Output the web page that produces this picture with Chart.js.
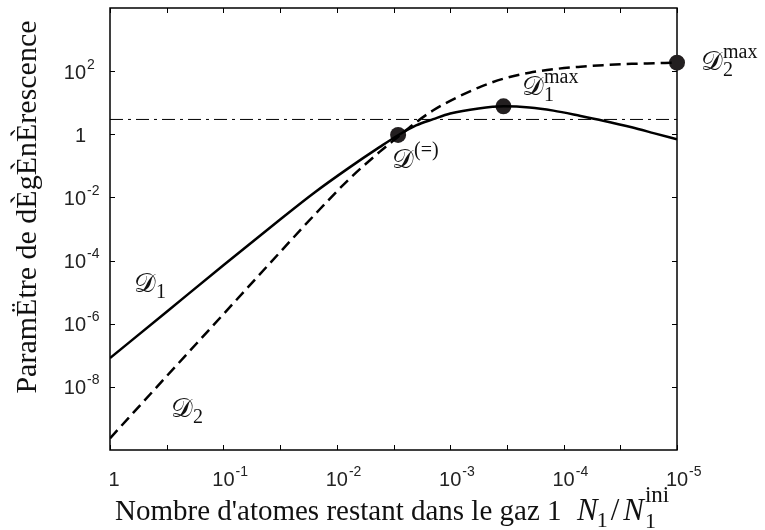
<!DOCTYPE html>
<html>
<head>
<meta charset="utf-8">
<script src="https://cdn.jsdelivr.net/npm/chart.js@4.4.0/dist/chart.umd.min.js"></script>
<style>
  html, body { margin: 0; padding: 0; background: #fff; }
  #wrap { width: 765px; height: 530px; position: relative; }
</style>
</head>
<body>
<div id="wrap"><canvas id="chart"></canvas></div>
<script>
// remaining fraction N1/N1ini (x axis, runs from 1 down to 1e-5)
const N1 = [1, 0.316, 0.1, 0.0316, 0.0158, 0.00794, 0.00417, 0.00288, 0.00200, 0.00141,
  0.001, 5.62e-4, 3.39e-4, 2.0e-4, 1.23e-4, 7.08e-5, 4.47e-5, 2.51e-5, 1.58e-5, 1e-5];
// degeneracy parameter, gas 1 (solid) and gas 2 (dashed)
const D1 = [8.13e-8, 2.40e-6, 7.08e-5, 2.0e-3, 0.0141, 0.0832, 0.398, 0.933, 1.91, 3.02,
  4.57, 6.61, 7.67, 7.08, 5.62, 3.80, 2.69, 1.66, 1.07, 0.692];
const D2 = [2.34e-10, 2.19e-8, 2.0e-6, 1.86e-4, 2.75e-3, 0.0355, 0.282, 0.832, 2.40, 5.75,
  11.5, 30.2, 57.5, 89.1, 115, 138, 155, 170, 178, 186];
// horizontal reference level (dash-dot)
const refLevel = 2.95;
// marked points: D(=), D1max, D2max
const markN = [2.88e-3, 3.39e-4, 1e-5];
const markD = [0.955, 7.67, 186];

// ticks
const xTickVals = [1, 1e-1, 1e-2, 1e-3, 1e-4, 1e-5];
const xTickLabels = ['1', '10^-1', '10^-2', '10^-3', '10^-4', '10^-5'];
const xTickMarks = [1, 0.316, 0.1, 0.0316, 0.01, 3.16e-3, 1e-3, 3.16e-4, 1e-4, 3.16e-5, 1e-5];
const yTickVals = [1e-8, 1e-6, 1e-4, 1e-2, 1, 1e2];
const yTickLabels = ['10^-8', '10^-6', '10^-4', '10^-2', '1', '10^2'];

const SANS = "'Liberation Sans', Arial, sans-serif";
const SERIF = "'Liberation Serif', 'Times New Roman', serif";
const CAL = "'DejaVu Serif', 'DejaVu Sans', serif";

function pts(xs, ys) { return xs.map((x, i) => ({ x, y: ys[i] })); }

// draws "base^exp" ; anchor = 'center' (base centred on x) or 'right' (base right edge on x)
function drawPow(ctx, label, x, y, anchor) {
  const [base, exp] = label.split('^');
  ctx.font = '20px ' + SANS;
  const bw = ctx.measureText(base).width;
  let bx = anchor === 'center' ? x - bw / 2 : x - bw;
  if (anchor === 'center' && !exp) bx += 4;
  ctx.textAlign = 'left';
  ctx.fillText(base, bx, y);
  if (exp) {
    ctx.font = '14px ' + SANS;
    ctx.fillText(exp, bx + bw + 1, y - 10);
  }
}

// math label: script D with optional sub/superscript
function drawD(ctx, x, y, sub, sup) {
  ctx.textAlign = 'left';
  ctx.font = '27px ' + CAL;
  ctx.fillText('\u{1D49F}', x, y);
  const w = ctx.measureText('\u{1D49F}').width;
  ctx.font = '20px ' + SERIF;
  if (sub) ctx.fillText(sub, x + w, y + 6);
  if (sup) ctx.fillText(sup, x + w, y - 12);
}

const frame = {
  id: 'frame',
  beforeDatasetsDraw(chart) {
    const { ctx, chartArea: a, scales: { x, y } } = chart;
    ctx.save();
    ctx.strokeStyle = '#000';
    ctx.lineWidth = 1.5;
    ctx.strokeRect(a.left, a.top, a.right - a.left, a.bottom - a.top);
    ctx.lineWidth = 1;
    ctx.beginPath();
    xTickMarks.forEach(v => {
      const px = Math.round(x.getPixelForValue(v)) + 0.5;
      ctx.moveTo(px, a.bottom); ctx.lineTo(px, a.bottom - 5);
      ctx.moveTo(px, a.top); ctx.lineTo(px, a.top + 5);
    });
    yTickVals.forEach(v => {
      const py = Math.round(y.getPixelForValue(v)) + 0.5;
      ctx.moveTo(a.left, py); ctx.lineTo(a.left + 5, py);
      ctx.moveTo(a.right, py); ctx.lineTo(a.right - 5, py);
    });
    ctx.stroke();
    ctx.restore();
  },
  afterDraw(chart) {
    const { ctx, scales: { x, y } } = chart;
    ctx.save();
    ctx.fillStyle = '#222';
    ctx.textBaseline = 'alphabetic';
    xTickVals.forEach((v, i) => drawPow(ctx, xTickLabels[i], x.getPixelForValue(v), 486, 'center'));
    yTickVals.forEach((v, i) => drawPow(ctx, yTickLabels[i], 86, y.getPixelForValue(v) + 7.5, 'right'));

    ctx.fillStyle = '#111';
    // x title
    ctx.font = '29px ' + SERIF;
    ctx.textAlign = 'left';
    const main = "Nombre d'atomes restant dans le gaz 1";
    ctx.fillText(main, 115, 520);
    let cx = 577;
    ctx.font = 'italic 31px ' + SERIF;
    ctx.fillText('N', cx, 520); cx += ctx.measureText('N').width;
    ctx.font = '22px ' + SERIF;
    ctx.fillText('1', cx - 1, 527); cx += ctx.measureText('1').width + 2;
    ctx.font = '31px ' + SERIF;
    ctx.fillText('/', cx, 520); cx += ctx.measureText('/').width + 4;
    ctx.font = 'italic 31px ' + SERIF;
    ctx.fillText('N', cx, 520); cx += ctx.measureText('N').width + 1;
    ctx.font = '22px ' + SERIF;
    ctx.fillText('1', cx, 528);
    ctx.font = '23px ' + SERIF;
    ctx.fillText('ini', cx, 502);

    // y title
    ctx.save();
    ctx.translate(36, 207);
    ctx.rotate(-Math.PI / 2);
    ctx.font = '30px ' + SERIF;
    ctx.textAlign = 'center';
    ctx.fillText('ParamËtre de dÈgÈnÈrescence', 0, 0);
    ctx.restore();

    // curve annotations
    drawD(ctx, 134, 292, '1', null);
    drawD(ctx, 171, 417, '2', null);
    drawD(ctx, 392, 168, null, '(=)');
    drawD(ctx, 522, 95, '1', 'max');
    drawD(ctx, 701, 70, '2', 'max');
    ctx.restore();
  }
};

new Chart(document.getElementById('chart'), {
  type: 'line',
  data: {
    datasets: [
      { label: 'D1', data: pts(N1, D1), borderColor: '#000', borderWidth: 2.5, pointRadius: 0, cubicInterpolationMode: 'monotone' },
      { label: 'D2', data: pts(N1, D2), borderColor: '#000', borderWidth: 2.5, borderDash: [11, 6], pointRadius: 0, cubicInterpolationMode: 'monotone' },
      { label: 'ref', data: [{ x: 1, y: refLevel }, { x: 1e-5, y: refLevel }], borderColor: '#000', borderWidth: 1, borderDash: [13, 5, 3, 5], pointRadius: 0 },
      { label: 'marks', data: pts(markN, markD), showLine: false, pointRadius: 8, pointBackgroundColor: '#231f20', pointBorderWidth: 0, clip: false }
    ]
  },
  options: {
    responsive: true,
    maintainAspectRatio: false,
    animation: false,
    layout: { padding: { left: 110, right: 88, top: 3, bottom: 80 } },
    plugins: { legend: { display: false }, tooltip: { enabled: false } },
    scales: {
      x: { type: 'logarithmic', reverse: true, min: 1e-5, max: 1, display: false },
      y: { type: 'logarithmic', min: 1e-10, max: 1e4, display: false }
    }
  },
  plugins: [frame]
});
</script>
</body>
</html>
